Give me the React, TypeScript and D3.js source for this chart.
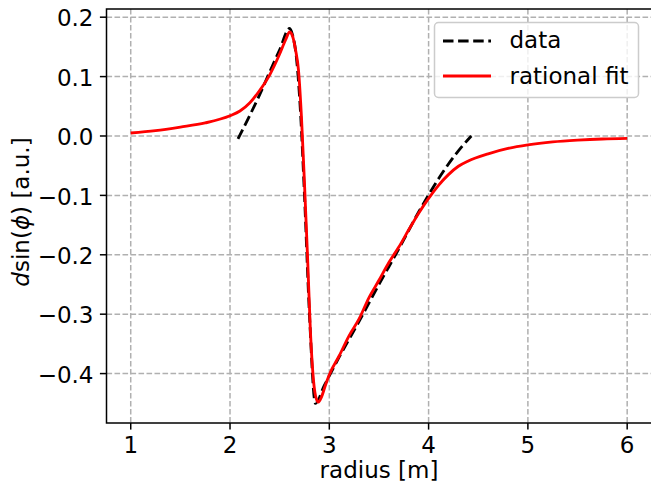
import React from "react";
import * as d3 from "d3";

const xTicks = [1, 2, 3, 4, 5, 6];
const yTicks = [0.2, 0.1, 0.0, -0.1, -0.2, -0.3, -0.4];
const yTickLabels = ["0.2", "0.1", "0.0", "\u22120.1", "\u22120.2", "\u22120.3", "\u22120.4"];

const dataX = [2.08, 2.2, 2.3, 2.4, 2.5, 2.6, 2.63, 2.67, 2.71, 2.75, 2.8, 2.86, 2.95, 3.1, 3.3, 3.5, 3.7, 3.9, 4.1, 4.3, 4.43];
const dataY = [-0.005, 0.035, 0.07, 0.108, 0.145, 0.181, 0.17, 0.13, 0.04, -0.1, -0.3, -0.45, -0.42, -0.372, -0.312, -0.25, -0.19, -0.128, -0.072, -0.025, 0.0];

const fitX = [1, 1.25, 1.5, 1.75, 2, 2.1, 2.2, 2.3, 2.4, 2.5, 2.56, 2.6, 2.63, 2.66, 2.69, 2.72, 2.75, 2.78, 2.81, 2.84, 2.87, 2.89, 2.92, 2.96, 3.0, 3.1, 3.2, 3.3, 3.4, 3.5, 3.6, 3.7, 3.8, 3.9, 4.0, 4.1, 4.2, 4.3, 4.4, 4.6, 4.8, 5.0, 5.25, 5.5, 5.75, 6.0];
const fitY = [0.005, 0.009, 0.015, 0.022, 0.034, 0.042, 0.056, 0.077, 0.103, 0.138, 0.162, 0.175, 0.168, 0.145, 0.11, 0.03, -0.08, -0.2, -0.33, -0.41, -0.443, -0.448, -0.44, -0.42, -0.402, -0.37, -0.336, -0.308, -0.272, -0.243, -0.213, -0.187, -0.158, -0.13, -0.105, -0.083, -0.065, -0.051, -0.042, -0.03, -0.021, -0.015, -0.01, -0.007, -0.005, -0.004];

const legendLabels = ["data", "rational fit"];

export default function App() {
  const W = 651, H = 485;
  const left = 106.5, right = 652, top = 9, bottom = 423;
  const x = d3.scaleLinear().domain([0.756, 6.25]).range([left, right]);
  const y = d3.scaleLinear().domain([-0.4832, 0.2138]).range([bottom, top]);
  const font = "DejaVu Sans, sans-serif";
  const fs = 23;

  const dataPts = dataX.map((v, i) => [v, dataY[i]] as [number, number]);
  const fitPts = fitX.map((v, i) => [v, fitY[i]] as [number, number]);
  const line = d3.line<[number, number]>().x(d => x(d[0])).y(d => y(d[1])).curve(d3.curveMonotoneX);

  return (
    <svg width={W} height={H} style={{ position: "absolute", left: 0, top: 0, background: "#fff" }} fontFamily={font}>
      <defs>
        <clipPath id="plotclip"><rect x={left} y={top} width={right - left} height={bottom - top} /></clipPath>
      </defs>
      <rect x={0} y={0} width={W} height={H} fill="#fff" />
      {xTicks.map(t => (
        <line key={"gx" + t} x1={x(t)} x2={x(t)} y1={top} y2={bottom} stroke="#b0b0b0" strokeWidth={1.5} strokeDasharray="5.6,2.4" />
      ))}
      {yTicks.map(t => (
        <line key={"gy" + t} x1={left} x2={right} y1={y(t)} y2={y(t)} stroke="#b0b0b0" strokeWidth={1.5} strokeDasharray="5.6,2.4" />
      ))}
      <g clipPath="url(#plotclip)">
        <path d={line(dataPts) || ""} fill="none" stroke="#000" strokeWidth={2.85} strokeDasharray="10.5,4.6" />
        <path d={line(fitPts) || ""} fill="none" stroke="#ff0000" strokeWidth={2.85} />
      </g>
      <rect x={left} y={top} width={right - left} height={bottom - top} fill="none" stroke="#000" strokeWidth={1.5} />
      {xTicks.map(t => (
        <g key={"tx" + t}>
          <line x1={x(t)} x2={x(t)} y1={bottom} y2={bottom + 6.6} stroke="#000" strokeWidth={1.5} />
          <text x={x(t)} y={452.5} fontSize={fs} textAnchor="middle" fill="#000">{t}</text>
        </g>
      ))}
      {yTicks.map((t, i) => (
        <g key={"ty" + t}>
          <line x1={left} x2={left - 6.6} y1={y(t)} y2={y(t)} stroke="#000" strokeWidth={1.5} />
          <text x={left - 13} y={y(t) + 9.2} fontSize={fs} textAnchor="end" fill="#000">{yTickLabels[i]}</text>
        </g>
      ))}
      <text x={379} y={477.5} fontSize={fs} textAnchor="middle" fill="#000">radius [m]</text>
      <text transform={`translate(28.5,212) rotate(-90)`} fontSize={fs} textAnchor="middle" fill="#000">
        <tspan fontStyle="italic">d</tspan>
        <tspan>sin(</tspan>
        <tspan fontStyle="italic">ϕ</tspan>
        <tspan>) [a.u.]</tspan>
      </text>
      <g>
        <rect x={434.5} y={22.5} width={204} height={75} rx={4} fill="#fff" fillOpacity={0.8} stroke="#cccccc" strokeWidth={1.5} />
        <line x1={443} x2={491} y1={41} y2={41} stroke="#000" strokeWidth={2.85} strokeDasharray="10.5,4.6" />
        <line x1={443} x2={491} y1={76} y2={76} stroke="#ff0000" strokeWidth={2.85} />
        <text x={509.5} y={48.3} fontSize={fs} fill="#000">{legendLabels[0]}</text>
        <text x={509.5} y={84} fontSize={fs} fill="#000">{legendLabels[1]}</text>
      </g>
    </svg>
  );
}
